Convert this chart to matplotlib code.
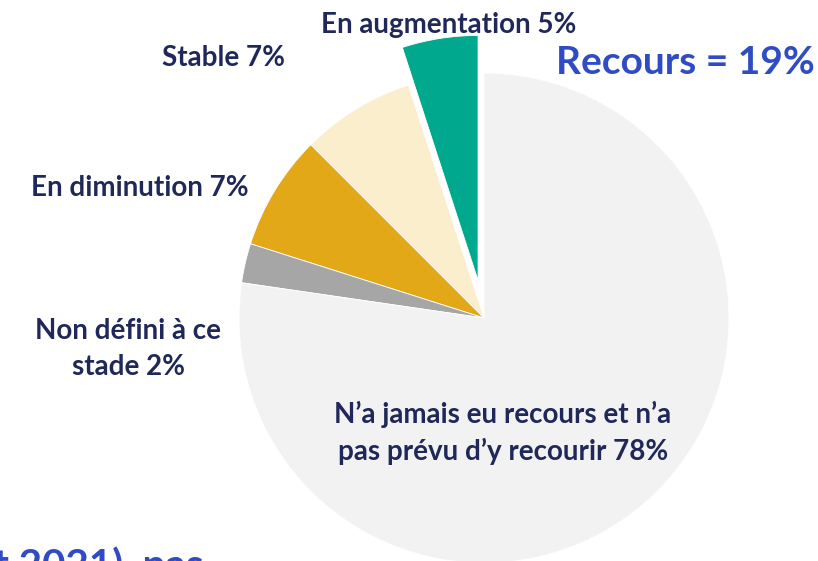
import matplotlib
matplotlib.use("Agg")
import matplotlib.pyplot as plt

# Shares (labels show the rounded figures)
labels = [
    "En augmentation 5%",
    "Stable 7%",
    "En diminution 7%",
    "Non défini à ce\nstade 2%",
    "N\u2019a jamais eu recours et n\u2019a\npas prévu d\u2019y recourir 78%",
]
values = [5.0, 7.5, 7.6, 2.6, 77.3]
colors = ["#00A88E", "#FBEECD", "#E2A817", "#A6A6A6", "#F2F2F2"]

# label anchor points in pixel space (y from top)
label_pos = [(449, 25), (223, 58), (140, 188), (128, 349), (503, 433)]

W, H = 818, 561
R = 245
plt.rcParams["font.family"] = ["Lato", "DejaVu Sans"]

fig = plt.figure(figsize=(W / 100, H / 100), dpi=100)
ax = fig.add_axes([0, 0, 1, 1])
ax.axis("off")

# explode is in data units here since the axes are in pixels
ax.pie(
    values,
    colors=colors,
    explode=[38, 0, 0, 0, 0],
    startangle=90,
    counterclock=True,
    center=(484, H - 318),
    radius=R,
    wedgeprops=dict(linewidth=0.6, edgecolor="white"),
)
ax.set_xlim(0, W)
ax.set_ylim(0, H)
ax.set_aspect("equal")

navy = "#1F2859"
for text, (x, y) in zip(labels, label_pos):
    ax.text(x, H - y, text, ha="center", va="center", fontsize=20,
            fontweight="bold", color=navy, linespacing=1.45)

blue = "#2F4CC5"
ax.text(685, H - 62, "Recours = 19%", ha="center", va="center",
        fontsize=28, fontweight="bold", color=blue)
ax.text(-6, H - 578, "t 2021), pas", ha="left", va="baseline",
        fontsize=29, fontweight="bold", color=blue, clip_on=False)

fig.savefig("out.png", dpi=100)
